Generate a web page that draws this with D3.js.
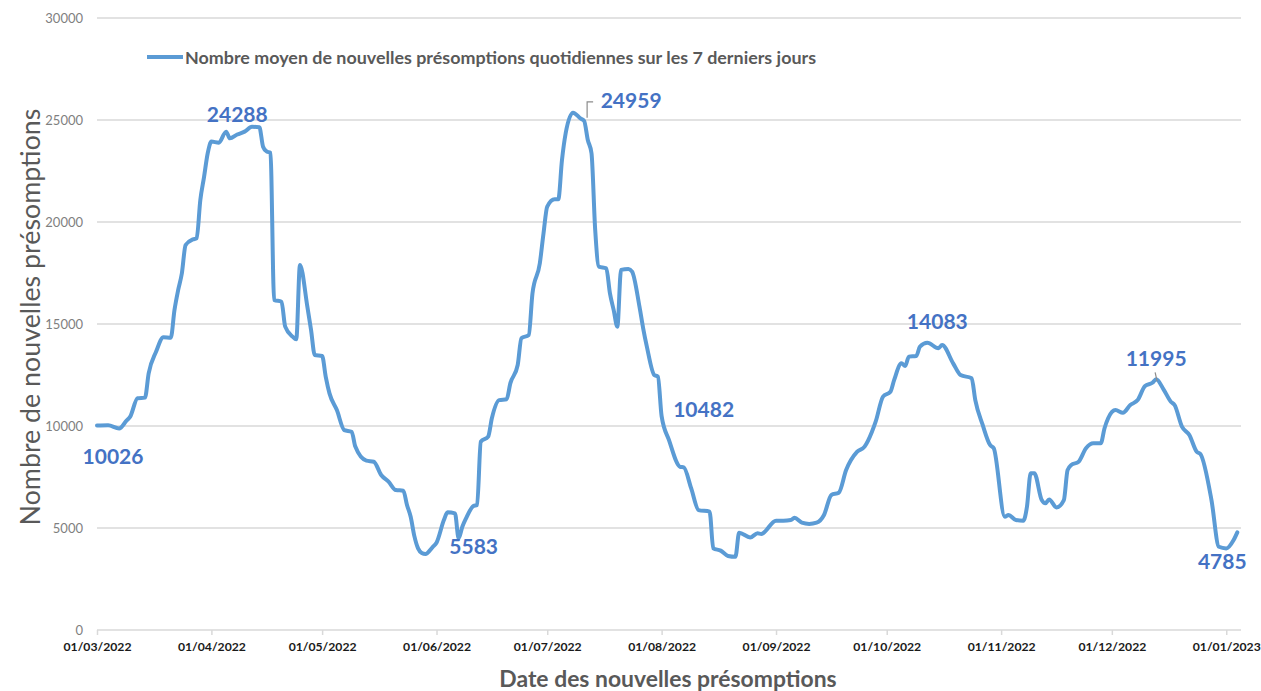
<!DOCTYPE html>
<html>
<head>
<meta charset="utf-8">
<script src="https://cdn.jsdelivr.net/npm/d3@7"></script>
<style>
    body { margin: 0; background: #fff; }
    svg { display: block; font-family: Lato, "Open Sans", sans-serif; }
</style>
</head>
<body>
<svg id="chart_svg"></svg>
<script>
// Moyenne glissante sur 7 jours
var dates = [
    '2022-03-01', '2022-03-04', '2022-03-07', '2022-03-09', '2022-03-10', '2022-03-12', '2022-03-14', '2022-03-15',
    '2022-03-17', '2022-03-19', '2022-03-21', '2022-03-22', '2022-03-23', '2022-03-24', '2022-03-25', '2022-03-27',
    '2022-03-28', '2022-03-29', '2022-03-30', '2022-03-31', '2022-04-01', '2022-04-03', '2022-04-05', '2022-04-06',
    '2022-04-08', '2022-04-10', '2022-04-12', '2022-04-14', '2022-04-15', '2022-04-16', '2022-04-17', '2022-04-18',
    '2022-04-20', '2022-04-21', '2022-04-23', '2022-04-24', '2022-04-25', '2022-04-27', '2022-04-28', '2022-04-29',
    '2022-05-01', '2022-05-02', '2022-05-03', '2022-05-05', '2022-05-07', '2022-05-09', '2022-05-10', '2022-05-13',
    '2022-05-15', '2022-05-17', '2022-05-19', '2022-05-21', '2022-05-23', '2022-05-24', '2022-05-25', '2022-05-26',
    '2022-05-27', '2022-05-28', '2022-05-29', '2022-05-31', '2022-06-01', '2022-06-03', '2022-06-04', '2022-06-06',
    '2022-06-07', '2022-06-08', '2022-06-09', '2022-06-11', '2022-06-12', '2022-06-13', '2022-06-15', '2022-06-16',
    '2022-06-18', '2022-06-20', '2022-06-21', '2022-06-23', '2022-06-24', '2022-06-26', '2022-06-27', '2022-06-29',
    '2022-06-30', '2022-07-01', '2022-07-03', '2022-07-04', '2022-07-05', '2022-07-06', '2022-07-08', '2022-07-10',
    '2022-07-11', '2022-07-12', '2022-07-13', '2022-07-14', '2022-07-15', '2022-07-17', '2022-07-18', '2022-07-19',
    '2022-07-20', '2022-07-21', '2022-07-23', '2022-07-24', '2022-07-26', '2022-07-27', '2022-07-28', '2022-07-30',
    '2022-07-31', '2022-08-01', '2022-08-03', '2022-08-06', '2022-08-07', '2022-08-09', '2022-08-11', '2022-08-14',
    '2022-08-15', '2022-08-17', '2022-08-19', '2022-08-21', '2022-08-22', '2022-08-25', '2022-08-27', '2022-08-28',
    '2022-09-01', '2022-09-03', '2022-09-05', '2022-09-06', '2022-09-08', '2022-09-10', '2022-09-12', '2022-09-14',
    '2022-09-16', '2022-09-18', '2022-09-20', '2022-09-23', '2022-09-25', '2022-09-27', '2022-09-28', '2022-09-30',
    '2022-10-02', '2022-10-03', '2022-10-05', '2022-10-06', '2022-10-07', '2022-10-09', '2022-10-10', '2022-10-12',
    '2022-10-15', '2022-10-16', '2022-10-19', '2022-10-21', '2022-10-24', '2022-10-25', '2022-10-27', '2022-10-29',
    '2022-10-30', '2022-11-02', '2022-11-03', '2022-11-05', '2022-11-07', '2022-11-08', '2022-11-09', '2022-11-10',
    '2022-11-12', '2022-11-13', '2022-11-14', '2022-11-16', '2022-11-18', '2022-11-19', '2022-11-20', '2022-11-22',
    '2022-11-24', '2022-11-26', '2022-11-28', '2022-11-29', '2022-11-30', '2022-12-02', '2022-12-04', '2022-12-06',
    '2022-12-08', '2022-12-10', '2022-12-12', '2022-12-13', '2022-12-15', '2022-12-17', '2022-12-18', '2022-12-20',
    '2022-12-22', '2022-12-24', '2022-12-25', '2022-12-28', '2022-12-30', '2023-01-01', '2023-01-03', '2023-01-04'
];

var values = [
    10026, 10040, 9880, 10260, 10460, 11360, 11390, 12580,
    13640, 14350, 14330, 15690, 16670, 17490, 18870, 19150,
    19200, 21080, 22200, 23370, 23940, 23890, 24430, 24100,
    24288, 24430, 24670, 24640, 23690, 23450, 23400, 16180,
    16090, 14870, 14380, 14250, 17890, 15850, 14710, 13480,
    13430, 12400, 11600, 10780, 9800, 9720, 8990, 8300,
    8250, 7600, 7270, 6860, 6830, 6130, 5550, 4600,
    4000, 3780, 3730, 4080, 4280, 5390, 5770, 5720,
    4490, 5060, 5470, 6080, 6130, 9230, 9480, 10380,
    11270, 11310, 12090, 12990, 14300, 14460, 16500, 17980,
    19450, 20750, 21110, 21110, 23040, 24350, 25360, 25080,
    24959, 24020, 23370, 19610, 17810, 17730, 16500, 15690,
    14870, 17650, 17700, 17570, 15850, 14790, 13890, 12500,
    12420, 10482, 9310, 8000, 7970, 6950, 5880, 5800,
    4000, 3890, 3630, 3590, 4770, 4540, 4740, 4710,
    5360, 5360, 5390, 5500, 5260, 5200, 5260, 5640,
    6620, 6730, 7840, 8740, 8990, 9720, 10210, 11440,
    11680, 12250, 13070, 12940, 13400, 13430, 13890, 14083,
    13810, 13970, 13070, 12500, 12340, 11270, 10050, 9070,
    8910, 5550, 5640, 5390, 5360, 6040, 7680, 7680,
    6370, 6210, 6400, 6010, 6370, 7840, 8090, 8250,
    8910, 9150, 9150, 9880, 10380, 10780, 10650, 11030,
    11270, 11960, 12120, 12290, 11800, 11190, 11030, 9970,
    9560, 8740, 8630, 6370, 4080, 4000, 4410, 4785
];

var yTicks = [0, 5000, 10000, 15000, 20000, 25000, 30000];
var xTickDates = [
    '2022-03-01', '2022-04-01', '2022-05-01', '2022-06-01', '2022-07-01', '2022-08-01',
    '2022-09-01', '2022-10-01', '2022-11-01', '2022-12-01', '2023-01-01'
];

// Etiquettes de valeurs
var labelDates = ['2022-03-01', '2022-04-08', '2022-06-07', '2022-07-11', '2022-08-01', '2022-10-12', '2022-12-13', '2023-01-04'];
var labelValues = [10026, 24288, 5583, 24959, 10482, 14083, 11995, 4785];

var seriesName = 'Nombre moyen de nouvelles présomptions quotidiennes sur les 7 derniers jours';
var yTitle = 'Nombre de nouvelles présomptions';
var xTitle = 'Date des nouvelles présomptions';

(function () {
    var W = 1261, H = 691;
    var plotLeft = 97, plotRight = 1241, plotTop = 18, plotBottom = 630;
    var lineColor = '#5b9bd5', labelColor = '#4472c4', gridColor = '#d9d9d9', titleColor = '#595959';

    var parse = d3.timeParse('%Y-%m-%d');
    var data = dates.map(function (d, i) {
        return { date: parse(d), value: values[i] };
    });

    var svg = d3.select('#chart_svg').attr('width', W).attr('height', H);

    var x = d3.scaleTime()
        .domain([parse('2022-03-01'), parse('2023-01-05')])
        .range([plotLeft, plotRight]);

    var y = d3.scaleLinear()
        .domain([0, 30000])
        .range([plotBottom, plotTop]);

    // Grille horizontale
    svg.append('g')
        .selectAll('line')
        .data(yTicks)
        .enter()
        .append('line')
        .attr('x1', plotLeft)
        .attr('x2', plotRight)
        .attr('y1', function (d) { return y(d); })
        .attr('y2', function (d) { return y(d); })
        .attr('stroke', gridColor)
        .attr('stroke-width', 1.5);

    var yAxis = svg.append('g')
        .attr('transform', 'translate(' + (plotLeft - 14) + ',0)')
        .call(d3.axisLeft(y).tickValues(yTicks).tickSize(0).tickPadding(0).tickFormat(d3.format('d')));
    yAxis.select('.domain').remove();
    yAxis.selectAll('text')
        .attr('fill', '#7f7f7f')
        .style('font-size', '13px')
        .style('font-family', 'Lato, sans-serif');

    var xAxis = svg.append('g')
        .attr('transform', 'translate(0,' + plotBottom + ')')
        .call(d3.axisBottom(x)
            .tickValues(xTickDates.map(parse))
            .tickSize(5)
            .tickPadding(7)
            .tickFormat(d3.timeFormat('%d/%m/%Y')));
    xAxis.select('.domain').remove();
    xAxis.selectAll('line').attr('stroke', gridColor).attr('stroke-width', 1.5);
    xAxis.selectAll('text')
        .attr('fill', '#1a1a1a')
        .style('font-size', '12.2px')
        .style('font-weight', 'bold')
        .style('font-family', 'Lato, sans-serif');

    var line = d3.line()
        .x(function (d) { return x(d.date); })
        .y(function (d) { return y(d.value); })
        .curve(d3.curveMonotoneX);

    svg.append('path')
        .datum(data)
        .attr('d', line)
        .attr('fill', 'none')
        .attr('stroke', lineColor)
        .attr('stroke-width', 4)
        .attr('stroke-linejoin', 'round')
        .attr('stroke-linecap', 'round');

    // Etiquettes : decalage par rapport au point
    var labelDx = [16, 0, 15, 47, 42, 10, 0, -15];
    var labelDy = [30, -21, 29, -21, -8, -22, -28, 28];

    var labels = labelDates.map(function (d, i) {
        return { date: parse(d), value: labelValues[i], dx: labelDx[i], dy: labelDy[i] };
    });

    svg.append('g')
        .selectAll('text')
        .data(labels)
        .enter()
        .append('text')
        .attr('x', function (d) { return x(d.date) + d.dx; })
        .attr('y', function (d) { return y(d.value) + d.dy; })
        .attr('text-anchor', 'middle')
        .attr('dominant-baseline', 'central')
        .attr('fill', labelColor)
        .style('font-size', '21px')
        .style('font-weight', 'bold')
        .text(function (d) { return d.value; });

    // Traits de rappel (24959 et 11995)
    var p1 = labels[3], p2 = labels[6];
    svg.append('path')
        .attr('d', 'M' + (x(p1.date) + 3) + ',' + (y(p1.value) - 3) +
            'V' + (y(p1.value) - 19) + 'h6')
        .attr('fill', 'none')
        .attr('stroke', '#8c8c8c')
        .attr('stroke-width', 1.2);
    svg.append('path')
        .attr('d', 'M' + (x(p2.date) + 1) + ',' + (y(p2.value) - 4) +
            'L' + (x(p2.date) - 1) + ',' + (y(p2.value) - 13))
        .attr('fill', 'none')
        .attr('stroke', '#8c8c8c')
        .attr('stroke-width', 1.2);

    // Legende
    svg.append('line')
        .attr('x1', 147).attr('x2', 183)
        .attr('y1', 57).attr('y2', 57)
        .attr('stroke', lineColor)
        .attr('stroke-width', 4);
    svg.append('text')
        .attr('x', 185)
        .attr('y', 57)
        .attr('dominant-baseline', 'central')
        .attr('fill', titleColor)
        .style('font-size', '17.9px')
        .style('font-weight', 'bold')
        .text(seriesName);

    // Titres des axes
    svg.append('text')
        .attr('transform', 'translate(30,317) rotate(-90)')
        .attr('text-anchor', 'middle')
        .attr('dominant-baseline', 'central')
        .attr('fill', titleColor)
        .style('font-size', '26.8px')
        .text(yTitle);

    svg.append('text')
        .attr('x', 668)
        .attr('y', 678)
        .attr('text-anchor', 'middle')
        .attr('dominant-baseline', 'central')
        .attr('fill', titleColor)
        .style('font-size', '22.9px')
        .style('font-weight', 'bold')
        .text(xTitle);
})();
</script>
</body>
</html>
